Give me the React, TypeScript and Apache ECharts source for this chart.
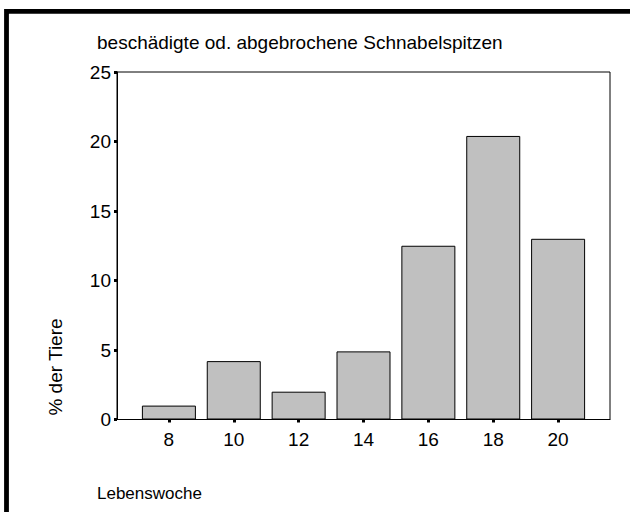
import React, { useEffect, useRef } from "react";
import * as echarts from "echarts";

const weeks = [8, 10, 12, 14, 16, 18, 20];
const percentages = [1.0, 4.2, 2.0, 4.9, 12.5, 20.4, 13.0];
const yTicks = [0, 5, 10, 15, 20, 25];
const titleText = "beschädigte od. abgebrochene Schnabelspitzen";
const xName = "Lebenswoche";
const yName = "% der Tiere";

const FONT = "'Liberation Sans', Arial, sans-serif";

export default function App() {
  const ref = useRef<HTMLDivElement>(null);
  useEffect(() => {
    if (!ref.current) return;
    const chart = echarts.init(ref.current, undefined, { renderer: "svg" });
    chart.setOption({
      animation: false,
      backgroundColor: "#fff",
      title: {
        text: titleText,
        left: 97,
        top: 33,
        padding: 0,
        textStyle: { fontFamily: FONT, fontSize: 19, fontWeight: "normal", color: "#000" },
      },
      grid: {
        left: 117,
        top: 72,
        right: 20,
        bottom: 92.5,
        show: true,
        borderColor: "#000",
        borderWidth: 1,
        backgroundColor: "transparent",
      },
      xAxis: {
        type: "value",
        min: 6.4,
        max: 21.6,
        splitLine: { show: false },
        axisLine: { show: true, lineStyle: { color: "#000", width: 1 } },
        axisTick: {
          show: true,
          customValues: weeks,
          length: 3,
          inside: false,
          lineStyle: { color: "#000", width: 3 },
        },
        axisLabel: {
          customValues: weeks,
          margin: 10,
          fontFamily: FONT,
          fontSize: 19,
          color: "#000",
        },
      },
      yAxis: {
        type: "value",
        min: 0,
        max: 25,
        interval: 5,
        splitLine: { show: false },
        axisLine: { show: true, lineStyle: { color: "#000", width: 1 } },
        axisTick: {
          show: true,
          length: 3,
          lineStyle: { color: "#000", width: 3 },
        },
        axisLabel: {
          margin: 6,
          fontFamily: FONT,
          fontSize: 19,
          color: "#000",
          customValues: yTicks,
        },
      },
      series: [
        {
          type: "bar",
          data: weeks.map((w, i) => [w, percentages[i]]),
          barWidth: 54,
          itemStyle: { color: "#c0c0c0", borderColor: "#000", borderWidth: 1 },
        },
      ],
      graphic: [
        {
          type: "rect",
          shape: { x: 6.5, y: 11.3, width: 700, height: 600 },
          style: { fill: "none", stroke: "#000", lineWidth: 4.8 },
          silent: true,
        },
        {
          type: "text",
          x: 55,
          y: 367,
          rotation: Math.PI / 2,
          style: {
            text: yName,
            fontFamily: FONT,
            fontSize: 19,
            fill: "#000",
            textAlign: "center",
            textVerticalAlign: "middle",
          },
        },
        {
          type: "text",
          x: 97,
          y: 493,
          style: {
            text: xName,
            fontFamily: FONT,
            fontSize: 17,
            fill: "#000",
            textAlign: "left",
            textVerticalAlign: "middle",
          },
        },
      ],
    });
    return () => chart.dispose();
  }, []);
  return (
    <div
      ref={ref}
      style={{ position: "fixed", left: 0, top: 0, width: 630, height: 512 }}
    />
  );
}
